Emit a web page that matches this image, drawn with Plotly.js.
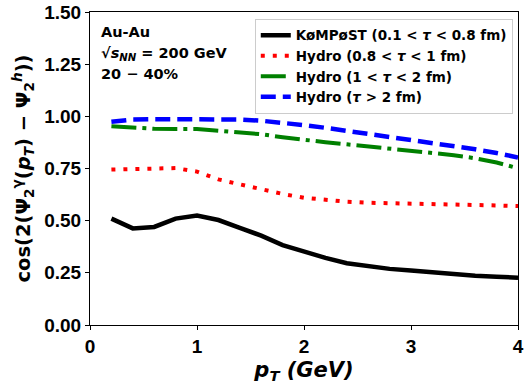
<!DOCTYPE html>
<html><head><meta charset="utf-8">
<script src="https://cdn.plot.ly/plotly-3.0.1.min.js"></script>
<style>html,body{margin:0;padding:0;background:#fff}#c{width:524px;height:389px}</style>
</head><body><div id="c"></div>
<script>
const pt = [0.2,0.4,0.6,0.8,1.0,1.2,1.4,1.6,1.8,2.0,2.2,2.4,2.6,2.8,3.0,3.2,3.4,3.6,3.8,4.0];
const kompost = [0.510,0.463,0.470,0.510,0.525,0.503,0.466,0.428,0.383,0.352,0.322,0.296,0.281,0.269,0.261,0.252,0.244,0.236,0.231,0.227];
const hydroEarly = [0.745,0.748,0.752,0.752,0.735,0.698,0.674,0.650,0.628,0.610,0.599,0.591,0.586,0.583,0.581,0.578,0.577,0.575,0.573,0.570];
const hydroMid = [0.953,0.945,0.940,0.939,0.939,0.931,0.923,0.914,0.900,0.886,0.876,0.866,0.856,0.847,0.837,0.827,0.814,0.799,0.779,0.751];
const hydroLate = [0.974,0.985,0.986,0.987,0.987,0.986,0.985,0.979,0.970,0.958,0.945,0.931,0.915,0.899,0.885,0.871,0.857,0.842,0.824,0.803];
const names = ["KøMPøST (0.1 &lt; <i>τ</i> &lt; 0.8 fm)","Hydro (0.8 &lt; <i>τ</i> &lt; 1 fm)","Hydro (1 &lt; <i>τ</i> &lt; 2 fm)","Hydro (<i>τ</i> &gt; 2 fm)"];
const infoLines = ["Au-Au","√<i>s<sub>NN</sub></i> = 200 GeV","20 − 40%"];
const yTicks = [0,0.25,0.5,0.75,1.0,1.25,1.5];
const yTickText = ["0.00","0.25","0.50","0.75","1.00","1.25","1.50"];
const xTicks = [0,1,2,3,4];

const F = "Liberation Sans, Arial, sans-serif";
const D = "DejaVu Sans, sans-serif";
const traces = [
  {x:pt,y:kompost,name:names[0],mode:"lines",line:{color:"black",width:4.5}},
  {x:pt,y:hydroEarly,name:names[1],mode:"lines",line:{color:"red",width:4,dash:"4px,8px"}},
  {x:pt,y:hydroMid,name:names[2],mode:"lines",line:{color:"green",width:4,dash:"25px,6px,4px,6px"}},
  {x:pt,y:hydroLate,name:names[3],mode:"lines",line:{color:"blue",width:4.5,dash:"15px,7px"}}
];
const lineY = [0.935, 0.866, 0.802];
const layout = {
  width:524,height:389,
  margin:{l:90,r:6,t:12,b:64},
  paper_bgcolor:"white",plot_bgcolor:"white",
  font:{family:D,color:"black",size:14,weight:"bold"},
  showlegend:true,
  legend:{x:0.385,y:0.978,xanchor:"left",yanchor:"top",bgcolor:"white",bordercolor:"#cccccc",borderwidth:1,
    font:{family:D,size:13.5,weight:"bold"},tracegroupgap:0,itemwidth:30},
  xaxis:{range:[0,4],tickvals:xTicks,ticks:"outside",ticklen:4,tickcolor:"black",
    showline:true,linecolor:"black",linewidth:1,mirror:true,showgrid:false,zeroline:false,
    tickfont:{family:F,size:19,weight:"bold"},
    title:{text:"<i>p<sub>T</sub></i> <i>(GeV)</i>",font:{family:D,size:21,weight:"bold"},standoff:6}},
  yaxis:{range:[0,1.5],tickvals:yTicks,ticktext:yTickText,ticks:"outside",ticklen:4,tickcolor:"black",
    showline:true,linecolor:"black",linewidth:1,mirror:true,showgrid:false,zeroline:false,
    tickfont:{family:F,size:19,weight:"bold"},
    title:{text:"cos(2(Ψ<sub>2</sub><sup>γ</sup>(<i>p<sub>T</sub></i>) − Ψ<sub>2</sub><sup><i>h</i></sup>))",font:{family:D,size:19.5,weight:"bold"},standoff:8}},
  annotations: infoLines.map((t,i)=>({xref:"paper",yref:"paper",x:0.02,y:lineY[i],xanchor:"left",yanchor:"middle",align:"left",showarrow:false,
     text:t,font:{family:D,size:14.5,weight:"bold"}}))
};
Plotly.newPlot("c",traces,layout,{displayModeBar:false,staticPlot:true});
</script></body></html>
